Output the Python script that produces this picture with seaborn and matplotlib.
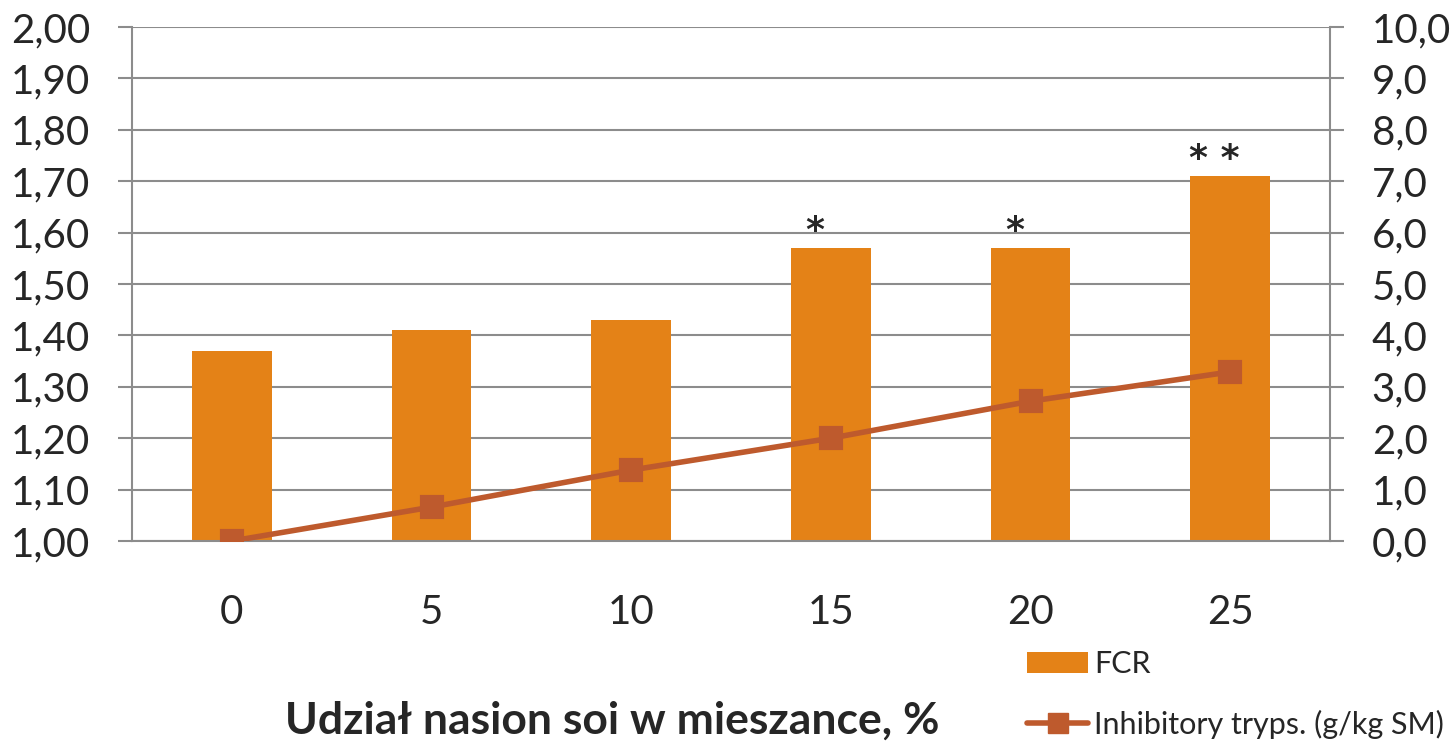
import numpy as np
import pandas as pd
import matplotlib
matplotlib.use("Agg")
import matplotlib.pyplot as plt
import seaborn as sns
from matplotlib.patches import Patch
from matplotlib.lines import Line2D

# dane
udzial = ["0", "5", "10", "15", "20", "25"]
fcr = [1.37, 1.41, 1.43, 1.57, 1.57, 1.71]
inhibitory = [0.0, 0.66, 1.38, 2.0, 2.72, 3.29]
gwiazdki = ["", "", "", "*", "*", "**"]

bar_color = "#E48217"
line_color = "#BE5A2D"
grid_color = "#8C8C8C"

sns.set_style("white")
plt.rcParams["font.family"] = ["Lato", "DejaVu Sans"]

df = pd.DataFrame({"udzial": udzial, "fcr": fcr, "inh": inhibitory})

fig = plt.figure(figsize=(14.53, 7.46), dpi=100)
ax = fig.add_axes([132 / 1453, 205 / 746, 1198 / 1453, 514 / 746])

sns.barplot(data=df, x="udzial", y="fcr", ax=ax, color=bar_color,
            width=0.4, saturation=1, edgecolor="none")
# gwiazdki nad słupkami (z odstępem jak w oryginale)
for i, (v, g) in enumerate(zip(fcr, gwiazdki)):
    if g:
        ax.text(i - 0.08, v + 0.033, " ".join(g), ha="center", va="center", fontsize=26,
                family=["DejaVu Sans"], fontweight="bold")

ax.set_ylim(1.0, 2.0)
ax.set_xlim(-0.5, 5.5)
ax.set_yticks(np.arange(1.0, 2.001, 0.1))
ax.set_yticklabels([f"{t:.2f}".replace(".", ",") for t in np.arange(1.0, 2.001, 0.1)])
ax.yaxis.grid(True, color=grid_color, lw=1.5)
ax.set_axisbelow(True)

# ticks on category boundaries, labels in the middle
ax.set_xticks(np.arange(6))
ax.set_xticklabels(udzial)
ax.set_xticks(np.arange(-0.5, 6.0, 1.0), minor=True)
ax.tick_params(axis="x", which="major", length=0, pad=38, labelsize=29)
ax.tick_params(axis="x", which="minor", length=11, width=1.5, color=grid_color, direction="out")
ax.tick_params(axis="y", length=10, width=1.5, color=grid_color, direction="out",
               pad=20, labelsize=29, left=True)
ax.set_xlabel("")
ax.set_ylabel("")
for s in ["top", "right"]:
    ax.spines[s].set_visible(False)
for s in ["left", "bottom"]:
    ax.spines[s].set_color(grid_color)
    ax.spines[s].set_linewidth(1.5)

ax2 = ax.twinx()
sns.pointplot(data=df, x="udzial", y="inh", ax=ax2, color=line_color,
              markers="s", markersize=15, linewidth=4, errorbar=None)
ax2.set_ylim(0, 10)
ax2.set_xlim(-0.5, 5.5)
ax2.set_yticks(np.arange(0, 10.01, 1))
ax2.set_yticklabels([f"{t:.1f}".replace(".", ",") for t in np.arange(0, 10.01, 1)])
ax2.tick_params(axis="y", length=10, width=1.5, color=grid_color, direction="out",
                pad=20, labelsize=29, right=True)
ax2.set_ylabel("")
ax2.set_xlabel("")
for s in ["top", "left", "bottom"]:
    ax2.spines[s].set_visible(False)
ax2.spines["right"].set_color(grid_color)
ax2.spines["right"].set_linewidth(1.5)

fig.text(612 / 1453, 5 / 746, "Udział nasion soi w mieszance, %",
         ha="center", va="bottom", fontsize=32, fontweight="bold")

handles = [Patch(facecolor=bar_color, edgecolor="none"),
           Line2D([], [], color=line_color, lw=4, marker="s", markersize=15)]
fig.legend(handles, ["FCR", "Inhibitory tryps. (g/kg SM)"],
           loc="upper left", bbox_to_anchor=(1027 / 1453, 1 - 650 / 746),
           frameon=False, fontsize=22, labelspacing=1.05, handlelength=2.0,
           handletextpad=0.2, borderpad=0, borderaxespad=0)

fig.savefig("out.png", dpi=100)
